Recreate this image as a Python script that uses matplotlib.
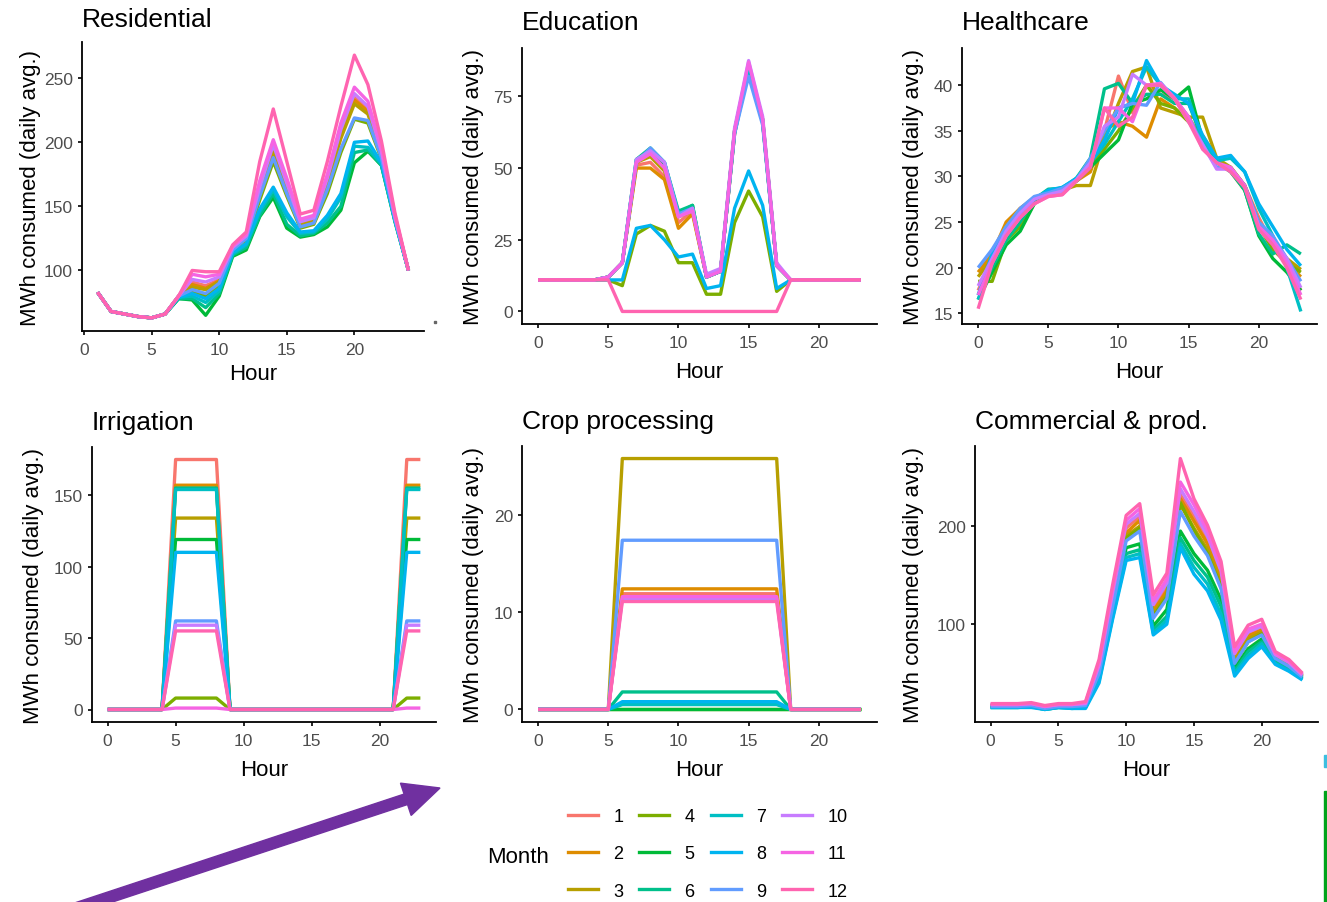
import matplotlib
matplotlib.use("Agg")
import matplotlib.pyplot as plt
from matplotlib.ticker import MultipleLocator
from matplotlib.patches import FancyArrow, Rectangle
from matplotlib.lines import Line2D

plt.rcParams['font.family'] = ['Liberation Sans', 'DejaVu Sans']

# ---------------- data ----------------
MONTHS = list(range(1, 13))
MONTH_COLORS = ["#F8766D", "#DE8C00", "#B79F00", "#7CAE00", "#00BA38", "#00C08B",
                "#00BFC4", "#00B4F0", "#619CFF", "#C77CFF", "#F564E3", "#FF64B0"]

HOURS_RES = list(range(1, 25))
HOURS = list(range(0, 24))
HOUR_TICKS = [0, 5, 10, 15, 20]

RESIDENTIAL = [
    [83, 68, 66, 64, 63, 66, 80, 91, 88, 93, 118, 127, 163, 195, 166, 137, 140, 170, 207, 235, 226, 192, 142, 100],
    [83, 68, 66, 64, 63, 66, 80, 89, 86, 92, 117, 126, 161, 194, 165, 136, 139, 168, 205, 233, 224, 191, 141, 100],
    [83, 68, 66, 64, 63, 66, 80, 87, 85, 91, 117, 126, 160, 193, 164, 136, 139, 167, 203, 230, 222, 190, 141, 100],
    [83, 68, 66, 64, 63, 66, 79, 84, 80, 88, 116, 124, 155, 185, 158, 133, 136, 160, 192, 218, 215, 187, 140, 100],
    [83, 68, 66, 64, 63, 66, 78, 77, 65, 80, 111, 116, 142, 157, 133, 126, 128, 134, 147, 184, 193, 182, 138, 100],
    [83, 68, 66, 64, 63, 66, 78, 78, 71, 82, 112, 118, 143, 160, 136, 127, 129, 137, 150, 192, 194, 182, 139, 100],
    [83, 68, 66, 64, 63, 66, 79, 80, 75, 84, 113, 120, 146, 163, 142, 129, 130, 140, 157, 197, 196, 183, 139, 100],
    [83, 68, 66, 64, 63, 66, 79, 82, 78, 86, 114, 121, 148, 165, 145, 130, 131, 143, 160, 200, 201, 184, 139, 100],
    [83, 68, 66, 64, 63, 66, 80, 85, 82, 90, 116, 125, 158, 188, 160, 134, 137, 163, 195, 219, 217, 188, 140, 100],
    [83, 68, 66, 64, 63, 66, 80, 93, 91, 95, 118, 127, 165, 198, 168, 138, 141, 172, 210, 238, 228, 193, 142, 100],
    [83, 68, 66, 64, 63, 66, 80, 97, 95, 97, 119, 128, 170, 202, 172, 140, 143, 175, 215, 243, 232, 195, 143, 100],
    [83, 68, 66, 64, 63, 66, 80, 100, 99, 99, 120, 130, 185, 226, 185, 144, 147, 185, 228, 268, 245, 201, 145, 100],
]

EDUCATION = [
    [11, 11, 11, 11, 11, 12, 17, 51, 52, 47, 31, 35, 12, 14, 62, 86, 66, 16, 11, 11, 11, 11, 11, 11],
    [11, 11, 11, 11, 11, 12, 17, 50, 50, 46, 29, 34, 12, 14, 62, 86, 66, 16, 11, 11, 11, 11, 11, 11],
    [11, 11, 11, 11, 11, 12, 17, 52, 54, 49, 33, 35, 12, 14, 63, 86, 67, 16, 11, 11, 11, 11, 11, 11],
    [11, 11, 11, 11, 11, 11, 9, 27, 30, 28, 17, 17, 6, 6, 31, 42, 33, 7, 11, 11, 11, 11, 11, 11],
    [11, 11, 11, 11, 11, 12, 17, 52, 56, 51, 34, 37, 12, 14, 63, 86, 67, 16, 11, 11, 11, 11, 11, 11],
    [11, 11, 11, 11, 11, 12, 17, 53, 57, 52, 35, 37, 12, 14, 63, 85, 66, 16, 11, 11, 11, 11, 11, 11],
    [11, 11, 11, 11, 11, 12, 17, 53, 56, 52, 34, 36, 12, 14, 62, 84, 66, 16, 11, 11, 11, 11, 11, 11],
    [11, 11, 11, 11, 11, 11, 11, 29, 30, 25, 19, 20, 8, 9, 36, 49, 37, 8, 11, 11, 11, 11, 11, 11],
    [11, 11, 11, 11, 11, 12, 17, 52, 57, 52, 34, 36, 12, 14, 62, 82, 65, 16, 11, 11, 11, 11, 11, 11],
    [11, 11, 11, 11, 11, 12, 17, 53, 56, 52, 33, 36, 13, 15, 64, 87.5, 68, 17, 11, 11, 11, 11, 11, 11],
    [11, 11, 11, 11, 11, 12, 17, 52, 55, 50, 33, 35, 12, 14, 63, 87, 67, 16, 11, 11, 11, 11, 11, 11],
    [11, 11, 11, 11, 11, 11, 0, 0, 0, 0, 0, 0, 0, 0, 0, 0, 0, 0, 11, 11, 11, 11, 11, 11],
]

HEALTHCARE = [
    [17.5, 21, 24.5, 26.5, 27.5, 28.2, 28.5, 29.5, 31, 35, 41, 37, 40, 39, 38.5, 36.5, 34, 31.8, 30.8, 29, 25.5, 22.5, 20.5, 17.5],
    [19.5, 21.5, 25, 26.5, 27.7, 28.2, 28.6, 29.5, 30.5, 35, 36, 35.5, 34.3, 38.5, 37.5, 36, 34.5, 32, 30.5, 28.5, 25, 22.5, 20.5, 19],
    [19, 21, 24, 26, 27.5, 28, 28.5, 29, 29, 34, 38, 41.5, 42, 37.5, 37, 36.5, 36.5, 32, 31, 29, 25, 23, 21, 19.8],
    [18.5, 18.5, 23, 24.5, 27, 28.3, 28.3, 29.5, 31, 33, 35, 37.5, 40, 38, 37.5, 36, 34, 31.5, 31, 29, 24.5, 22, 20.5, 19.5],
    [16.5, 19.5, 22.5, 24, 27, 28.5, 28.6, 29.5, 31, 32.5, 34, 38, 38.5, 39.5, 38.5, 39.8, 34, 31.5, 30.8, 28.5, 23.5, 21, 19.5, 17.5],
    [17, 20, 23, 25, 27.5, 28.6, 28.7, 29.8, 32, 39.6, 40.2, 38, 39, 39, 38, 38, 34, 31.5, 30.5, 28.5, 23.7, 21.5, 22.5, 21.5],
    [16.5, 21, 24, 26, 27.5, 28.3, 28.8, 29.7, 31.5, 33.5, 36, 38.5, 42, 40, 38.5, 38.5, 34, 31.7, 32, 30.5, 26.5, 23.5, 20, 15.2],
    [17, 21.5, 24.5, 26, 27.5, 28.5, 28.8, 29.8, 31.5, 34, 37.5, 38, 42.7, 40, 39, 38, 34.5, 32, 32.3, 30.5, 27, 24.5, 22, 20.2],
    [20, 22, 24.5, 26.5, 27.8, 28.2, 28.7, 29.6, 32, 35, 37.5, 38, 37.8, 40.3, 38.5, 36.5, 33.5, 31, 30.8, 29, 25, 23.5, 21, 18.5],
    [18, 21, 24, 26, 27.5, 28, 28.4, 29.6, 31.5, 35.5, 36.5, 41.2, 40, 40, 38.5, 36, 33.5, 30.8, 30.8, 28.8, 24.5, 23, 21, 17.8],
    [17, 20.5, 23.5, 25.5, 27, 27.8, 28, 29.5, 31, 37.5, 37.5, 36, 40, 40.2, 38.6, 36.5, 33, 31.5, 31, 29, 24.5, 23, 20.5, 17],
    [15.5, 20.5, 23.5, 25.5, 27, 27.8, 28, 29.5, 31, 37.5, 35.5, 36.5, 40, 40, 38.5, 36, 33, 31.5, 30.5, 28.8, 24.2, 22.5, 20, 16.5],
]

IRRIGATION = [
    [0, 0, 0, 0, 0, 175, 175, 175, 175, 0, 0, 0, 0, 0, 0, 0, 0, 0, 0, 0, 0, 0, 175, 175],
    [0, 0, 0, 0, 0, 157, 157, 157, 157, 0, 0, 0, 0, 0, 0, 0, 0, 0, 0, 0, 0, 0, 157, 157],
    [0, 0, 0, 0, 0, 134, 134, 134, 134, 0, 0, 0, 0, 0, 0, 0, 0, 0, 0, 0, 0, 0, 134, 134],
    [0, 0, 0, 0, 0, 8, 8, 8, 8, 0, 0, 0, 0, 0, 0, 0, 0, 0, 0, 0, 0, 0, 8, 8],
    [0, 0, 0, 0, 0, 119, 119, 119, 119, 0, 0, 0, 0, 0, 0, 0, 0, 0, 0, 0, 0, 0, 119, 119],
    [0, 0, 0, 0, 0, 155, 155, 155, 155, 0, 0, 0, 0, 0, 0, 0, 0, 0, 0, 0, 0, 0, 155, 155],
    [0, 0, 0, 0, 0, 154, 154, 154, 154, 0, 0, 0, 0, 0, 0, 0, 0, 0, 0, 0, 0, 0, 154, 154],
    [0, 0, 0, 0, 0, 110, 110, 110, 110, 0, 0, 0, 0, 0, 0, 0, 0, 0, 0, 0, 0, 0, 110, 110],
    [0, 0, 0, 0, 0, 62, 62, 62, 62, 0, 0, 0, 0, 0, 0, 0, 0, 0, 0, 0, 0, 0, 62, 62],
    [0, 0, 0, 0, 0, 59, 59, 59, 59, 0, 0, 0, 0, 0, 0, 0, 0, 0, 0, 0, 0, 0, 59, 59],
    [0, 0, 0, 0, 0, 1, 1, 1, 1, 0, 0, 0, 0, 0, 0, 0, 0, 0, 0, 0, 0, 0, 1, 1],
    [0, 0, 0, 0, 0, 55, 55, 55, 55, 0, 0, 0, 0, 0, 0, 0, 0, 0, 0, 0, 0, 0, 55, 55],
]

CROP = [
    [0, 0, 0, 0, 0, 0, 11.9, 11.9, 11.9, 11.9, 11.9, 11.9, 11.9, 11.9, 11.9, 11.9, 11.9, 11.9, 0, 0, 0, 0, 0, 0],
    [0, 0, 0, 0, 0, 0, 12.4, 12.4, 12.4, 12.4, 12.4, 12.4, 12.4, 12.4, 12.4, 12.4, 12.4, 12.4, 0, 0, 0, 0, 0, 0],
    [0, 0, 0, 0, 0, 0, 25.8, 25.8, 25.8, 25.8, 25.8, 25.8, 25.8, 25.8, 25.8, 25.8, 25.8, 25.8, 0, 0, 0, 0, 0, 0],
    [0, 0, 0, 0, 0, 0, 0, 0, 0, 0, 0, 0, 0, 0, 0, 0, 0, 0, 0, 0, 0, 0, 0, 0],
    [0, 0, 0, 0, 0, 0, 0, 0, 0, 0, 0, 0, 0, 0, 0, 0, 0, 0, 0, 0, 0, 0, 0, 0],
    [0, 0, 0, 0, 0, 0, 1.8, 1.8, 1.8, 1.8, 1.8, 1.8, 1.8, 1.8, 1.8, 1.8, 1.8, 1.8, 0, 0, 0, 0, 0, 0],
    [0, 0, 0, 0, 0, 0, 0.5, 0.5, 0.5, 0.5, 0.5, 0.5, 0.5, 0.5, 0.5, 0.5, 0.5, 0.5, 0, 0, 0, 0, 0, 0],
    [0, 0, 0, 0, 0, 0, 0.8, 0.8, 0.8, 0.8, 0.8, 0.8, 0.8, 0.8, 0.8, 0.8, 0.8, 0.8, 0, 0, 0, 0, 0, 0],
    [0, 0, 0, 0, 0, 0, 17.4, 17.4, 17.4, 17.4, 17.4, 17.4, 17.4, 17.4, 17.4, 17.4, 17.4, 17.4, 0, 0, 0, 0, 0, 0],
    [0, 0, 0, 0, 0, 0, 11.4, 11.4, 11.4, 11.4, 11.4, 11.4, 11.4, 11.4, 11.4, 11.4, 11.4, 11.4, 0, 0, 0, 0, 0, 0],
    [0, 0, 0, 0, 0, 0, 11.6, 11.6, 11.6, 11.6, 11.6, 11.6, 11.6, 11.6, 11.6, 11.6, 11.6, 11.6, 0, 0, 0, 0, 0, 0],
    [0, 0, 0, 0, 0, 0, 11.1, 11.1, 11.1, 11.1, 11.1, 11.1, 11.1, 11.1, 11.1, 11.1, 11.1, 11.1, 0, 0, 0, 0, 0, 0],
]

COMMERCIAL = [
    [17, 17, 17, 18, 15, 17, 17, 18, 56, 128, 198, 210, 116, 138, 232, 210, 186, 150, 67, 90, 96, 68, 60, 48],
    [17, 17, 17, 18, 15, 17, 17, 18, 54, 125, 193, 206, 113, 134, 228, 205, 182, 146, 64, 88, 94, 67, 59, 47],
    [17, 17, 17, 17, 15, 17, 16, 17, 52, 122, 190, 200, 110, 130, 222, 198, 176, 141, 62, 85, 92, 66, 58, 47],
    [16, 16, 16, 17, 14, 16, 16, 17, 50, 120, 188, 198, 108, 128, 224, 196, 172, 138, 60, 82, 90, 65, 57, 46],
    [16, 16, 16, 16, 14, 16, 15, 16, 46, 114, 178, 182, 98, 115, 195, 172, 155, 125, 55, 75, 85, 63, 55, 45],
    [15, 15, 15, 16, 13, 15, 15, 15, 44, 110, 172, 176, 94, 108, 188, 165, 148, 118, 52, 72, 82, 62, 54, 44],
    [15, 15, 15, 16, 13, 15, 14, 15, 42, 107, 168, 172, 91, 104, 182, 158, 141, 110, 50, 68, 80, 60, 53, 44],
    [15, 15, 15, 15, 13, 15, 14, 14, 40, 105, 165, 168, 89, 100, 178, 151, 134, 104, 47, 65, 77, 59, 52, 43],
    [16, 16, 16, 17, 14, 16, 16, 17, 50, 118, 185, 195, 106, 126, 215, 190, 170, 136, 60, 82, 89, 65, 57, 46],
    [18, 18, 18, 19, 16, 18, 18, 19, 58, 132, 202, 213, 120, 142, 238, 215, 190, 154, 70, 92, 98, 69, 61, 48],
    [18, 18, 18, 19, 16, 18, 18, 20, 60, 135, 206, 218, 124, 146, 245, 222, 195, 158, 72, 95, 100, 70, 62, 49],
    [19, 19, 19, 20, 17, 19, 19, 21, 64, 140, 211, 223, 130, 152, 269, 228, 201, 164, 77, 99, 105, 72, 64, 50],
]

TITLES = ["Residential", "Education", "Healthcare", "Irrigation", "Crop processing", "Commercial & prod."]
YLABEL = "MWh consumed (daily avg.)"
XLABEL = "Hour"

# ---------------- layout ----------------
W, H = 1327, 903
fig = plt.figure(figsize=(W / 100, H / 100), dpi=100)
fig.patch.set_facecolor("white")

panels = [
    (TITLES[0], HOURS_RES, RESIDENTIAL, (82, 43, 424, 332), 31, 48, 50, 11.5),
    (TITLES[1], HOURS, EDUCATION, (522, 49, 877, 325), 473, 53, 25, 13.5),
    (TITLES[2], HOURS, HEALTHCARE, (962, 49, 1317, 325), 913, 53, 5, 13.5),
    (TITLES[3], HOURS, IRRIGATION, (92, 448, 436, 723), 33, 53, 50, 13),
    (TITLES[4], HOURS, CROP, (522, 447, 877, 723), 473, 53, 10, 13),
    (TITLES[5], HOURS, COMMERCIAL, (975, 447, 1318, 723), 913, 53, 100, 13),
]

GREY30 = "#4D4D4D"
for title, hrs, data, (l, t, r, b), ylab_x, xlab_gap, ystep, tpad in panels:
    ax = fig.add_axes([l / W, 1 - b / H, (r - l) / W, (b - t) / H])
    for m, series in zip(MONTHS, data):
        ax.plot(hrs, series, color=MONTH_COLORS[m - 1], lw=2.4,
                solid_joinstyle="round", solid_capstyle="butt")
    ax.margins(x=0.05, y=0.05)
    ax.set_xticks(HOUR_TICKS)
    ax.yaxis.set_major_locator(MultipleLocator(ystep))
    for s in ("top", "right"):
        ax.spines[s].set_visible(False)
    for s in ("left", "bottom"):
        ax.spines[s].set_linewidth(1.3)
        ax.spines[s].set_color("black")
    ax.tick_params(axis="both", labelsize=12.5, labelcolor=GREY30, length=3,
                   width=1.2, color="black", direction="out")
    ax.tick_params(axis="x", pad=5)
    ax.tick_params(axis="y", pad=3.5)
    ax.set_title(title, loc="left", fontsize=19, pad=tpad, color="black")
    ax.set_xlabel(XLABEL, fontsize=16, va="baseline", color="black")
    ax.xaxis.set_label_coords(0.5, -xlab_gap / (b - t))
    ax.set_ylabel(YLABEL, fontsize=16, va="center", ha="center", color="black")
    ax.yaxis.set_label_coords((ylab_x - l) / (r - l), 0.5)

# ---------------- legend ----------------
handles = [Line2D([], [], color=c, lw=2.4) for c in MONTH_COLORS]
labels = [str(m) for m in MONTHS]
fig.legend(handles, labels, ncol=4, loc="center left",
           bbox_to_anchor=(568 / W, 1 - 855 / H), frameon=False, fontsize=13,
           handlelength=1.65, handletextpad=0.85, columnspacing=0.9,
           labelspacing=1.12, borderpad=0, borderaxespad=0)
fig.text(487 / W, 1 - 855 / H, "Month", fontsize=16, ha="left",
         va="center_baseline", color="black")

# ---------------- overlay arrow & edge marks ----------------
arrow = FancyArrow(0.412, -0.178, 3.988, 1.318, width=0.11, head_width=0.34,
                   head_length=0.36, length_includes_head=True,
                   color="#7030A0", transform=fig.dpi_scale_trans)
fig.add_artist(arrow)
fig.add_artist(Rectangle((13.24, 1.35), 0.03, 0.12, color="#3CBFE0",
                         transform=fig.dpi_scale_trans))
fig.add_artist(Rectangle((13.24, 0.0), 0.03, 1.11, color="#00A31A",
                         transform=fig.dpi_scale_trans))
fig.add_artist(Rectangle((4.34, 5.79), 0.02, 0.02, color="#666666",
                         transform=fig.dpi_scale_trans))

fig.savefig("out.png", dpi=100, facecolor="white")
